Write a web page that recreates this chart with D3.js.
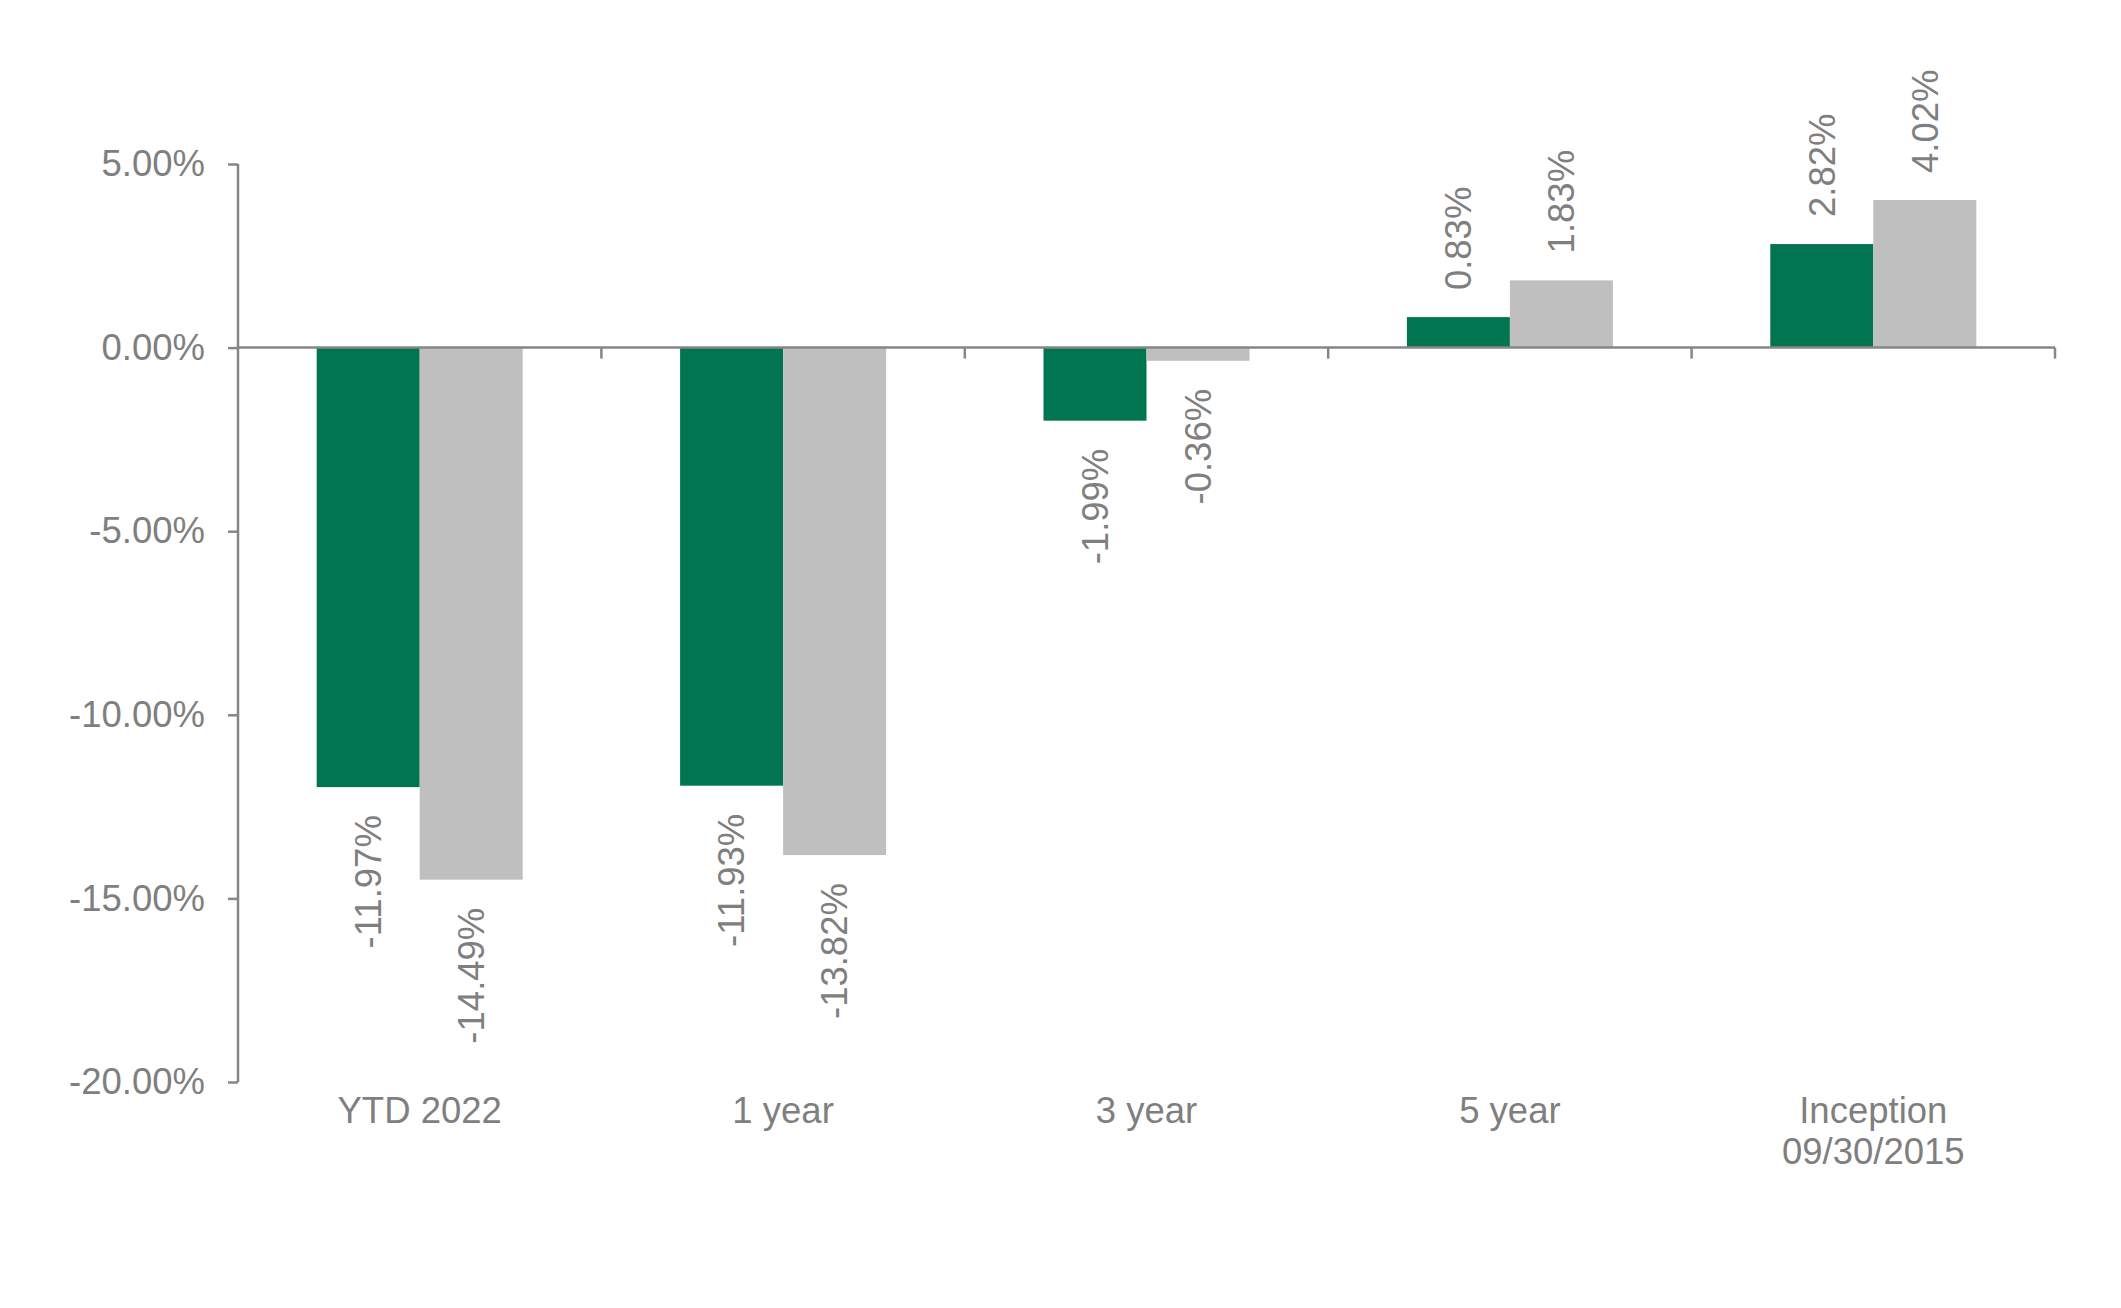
<!DOCTYPE html>
<html>
<head>
<meta charset="utf-8">
<script src="https://cdn.jsdelivr.net/npm/d3@7"></script>
<style>
  body{margin:0;background:#fff;}
  text{font-family:"Liberation Sans",Arial,sans-serif;fill:#7f7f7f;}
</style>
</head>
<body>
<script>
// chart data
var categories = ['YTD 2022','1 year','3 year','5 year','Inception\n09/30/2015'];
var series = ['fund','benchmark'];
var fundValues = [-11.97,-11.93,-1.99,0.83,2.82];
var benchValues = [-14.49,-13.82,-0.36,1.83,4.02];
var yTicks = [5,0,-5,-10,-15,-20];

var W = 2121, H = 1308;
var colors = {fund:'#00754f', benchmark:'#bfbfbf'};
var axisColor = '#868686';
var fs = '36.5px';

var rows = categories.map(function(c,i){
  return {cat:c, vals:[{s:'fund',v:fundValues[i]},{s:'benchmark',v:benchValues[i]}]};
});

var svg = d3.select('body').append('svg')
  .attr('width',W).attr('height',H);

// scales
var x0 = d3.scaleBand().domain(categories).range([238,2055]).padding(0);
var x1 = d3.scaleBand().domain(series).range([0,x0.bandwidth()])
  .paddingInner(0).paddingOuter(0.764);
var y = d3.scaleLinear().domain([-20,5]).range([1082,164]);

//bars
var g = svg.selectAll('g.cat').data(rows).enter()
  .append('g').attr('class','cat')
  .attr('transform',function(d){return 'translate('+x0(d.cat)+',0)';});

g.selectAll('rect').data(function(d){return d.vals;}).enter()
  .append('rect')
  .attr('x',function(d){return x1(d.s);})
  .attr('width',x1.bandwidth())
  .attr('y',function(d){return y(Math.max(0,d.v));})
  .attr('height',function(d){return Math.abs(y(d.v)-y(0));})
  .attr('fill',function(d){return colors[d.s];});

// value labels (rotated)
g.selectAll('text.val').data(function(d){return d.vals;}).enter()
  .append('text').attr('class','val')
  .attr('font-size',fs)
  .attr('dy','0.35em')
  .attr('text-anchor',function(d){return d.v<0?'end':'start';})
  .attr('transform',function(d){
    var cx = x1(d.s)+x1.bandwidth()/2;
    var cy = d.v<0 ? y(d.v)+28 : y(d.v)-27;
    return 'translate('+cx+','+cy+') rotate(-90)';
  })
  .text(function(d){return d.v.toFixed(2)+'%';});

// y axis
var yAxis = d3.axisLeft(y).tickValues(yTicks).tickSize(10).tickPadding(23)
  .tickFormat(function(d){return d.toFixed(2)+'%';});
var yG = svg.append('g').attr('transform','translate(238,0)').call(yAxis);
yG.select('.domain').attr('stroke',axisColor).attr('stroke-width',2.5)
  .attr('d','M0,'+y(5)+'V'+y(-20));
yG.selectAll('.tick line').attr('stroke',axisColor).attr('stroke-width',2.5);
yG.selectAll('.tick text').attr('font-size',fs)
  .attr('font-family','"Liberation Sans",Arial,sans-serif').attr('fill','#7f7f7f');

// zero line + category ticks
svg.append('line')
  .attr('x1',238).attr('x2',2055)
  .attr('y1',y(0)).attr('y2',y(0))
  .attr('stroke',axisColor).attr('stroke-width',2.5);
var bounds = categories.slice(1).map(function(c){return x0(c);}).concat([x0.range()[1]]);
svg.selectAll('line.xtick').data(bounds).enter()
  .append('line').attr('class','xtick')
  .attr('x1',function(d){return d;}).attr('x2',function(d){return d;})
  .attr('y1',y(0)).attr('y2',y(0)+11)
  .attr('stroke',axisColor).attr('stroke-width',2.5);

// category labels
var lab = svg.selectAll('text.cat').data(categories).enter()
  .append('text').attr('class','cat')
  .attr('font-size',fs).attr('text-anchor','middle')
  .attr('x',function(d){return x0(d)+x0.bandwidth()/2;})
  .attr('y',1123);
lab.selectAll('tspan').data(function(d){return d.split('\n');}).enter()
  .append('tspan')
  .attr('x',function(){return d3.select(this.parentNode).attr('x');})
  .attr('dy',function(d,i){return i?41:0;})
  .text(function(d){return d;});
</script>
</body>
</html>
